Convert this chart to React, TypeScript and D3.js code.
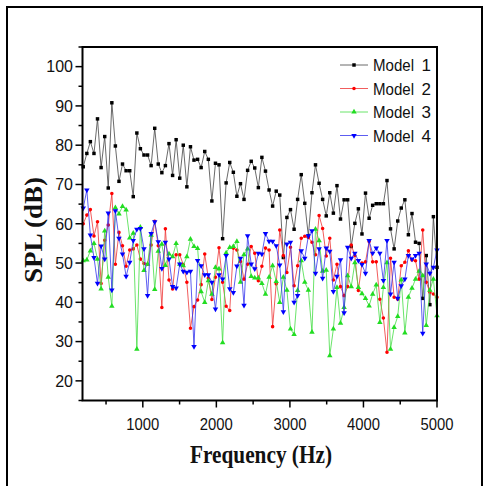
import React from "react";
import * as d3 from "d3";

const freqs = [190,239,287,336,384,433,482,530,579,627,676,724,773,822,870,919,967,1016,1065,1113,1162,1210,1259,1307,1356,1405,1453,1502,1550,1599,1648,1696,1745,1793,1842,1891,1939,1988,2036,2085,2133,2182,2231,2279,2328,2376,2425,2474,2522,2571,2619,2668,2717,2765,2814,2862,2911,2959,3008,3057,3105,3154,3202,3251,3300,3348,3397,3445,3494,3542,3591,3640,3688,3737,3785,3834,3883,3931,3980,4028,4077,4125,4174,4223,4271,4320,4368,4417,4466,4514,4563,4611,4660,4708,4757,4806,4854,4903,4951,5000];

const model1 = [
74.5, 77.9, 80.9, 77.9, 86.7, 74.3, 82.2, 69.1, 90.8, 79.8,
70.8, 75.2, 73.5, 73.5, 66.9, 83.1, 79.1, 77.5, 77.5, 74.8,
84.3, 75.2, 73.0, 74.8, 80.4, 72.3, 81.4, 71.6, 80.0, 69.4,
79.6, 76.2, 76.4, 74.3, 78.4, 76.4, 65.8, 75.4, 75.0, 56.2,
70.4, 75.6, 73.1, 67.0, 70.2, 66.2, 73.6, 75.9, 74.2, 69.2,
76.9, 73.4, 68.6, 64.5, 68.3, 67.3, 51.4, 61.6, 63.6, 58.6,
66.2, 72.5, 65.2, 56.9, 67.9, 75.0, 70.3, 66.2, 62.0, 67.9,
62.7, 69.7, 61.2, 66.1, 66.1, 54.2, 60.1, 63.8, 57.4, 67.8,
61.4, 64.7, 65.1, 65.1, 65.1, 71.0, 58.7, 53.6, 60.7, 64.0,
66.1, 57.2, 62.6, 55.3, 55.0, 41.0, 51.9, 39.4, 61.8, 48.9];

const model2 = [
60.0, 62.2, 63.6, 56.9, 60.5, 44.8, 55.8, 59.7, 67.7, 49.7,
57.8, 54.4, 49.2, 53.3, 53.6, 54.6, 51.0, 49.9, 49.7, 54.6,
60.6, 54.4, 38.7, 58.7, 45.7, 43.4, 52.1, 52.1, 49.6, 45.1,
33.4, 38.9, 40.6, 44.5, 52.3, 46.1, 40.7, 46.4, 53.9, 45.1,
39.0, 37.9, 53.8, 53.3, 50.4, 45.9, 49.7, 54.2, 52.5, 45.5,
49.2, 53.8, 53.3, 33.8, 44.7, 58.4, 51.9, 47.6, 54.0, 44.2,
49.3, 56.3, 56.8, 56.5, 55.3, 52.1, 62.1, 58.8, 51.8, 56.3,
45.7, 49.7, 44.0, 41.7, 44.0, 54.6, 51.9, 43.0, 50.0, 50.3,
55.5, 50.3, 50.3, 40.8, 36.0, 27.3, 51.2, 41.3, 40.8, 49.3,
50.2, 53.1, 50.8, 50.6, 45.9, 58.4, 45.1, 42.6, 42.1, 41.3];

const model3 = [
50.6, 50.8, 53.1, 55.0, 51.0, 43.4, 58.2, 46.4, 39.0, 64.1,
62.5, 64.4, 63.5, 56.4, 57.6, 28.1, 59.1, 48.1, 49.7, 57.1,
43.3, 53.0, 54.8, 49.4, 52.3, 51.6, 55.0, 49.7, 49.3, 51.6,
56.1, 54.2, 53.7, 42.7, 40.0, 45.5, 42.1, 48.9, 48.5, 29.7,
52.6, 54.0, 54.2, 55.5, 45.1, 52.1, 53.6, 46.6, 46.2, 46.2,
44.8, 42.1, 46.4, 49.3, 45.3, 40.0, 46.4, 43.1, 33.2, 31.8,
43.0, 50.6, 45.1, 43.1, 32.4, 58.6, 55.7, 47.9, 48.2, 26.4,
33.2, 43.8, 34.7, 38.7, 46.8, 44.0, 50.1, 43.8, 42.2, 41.0,
39.1, 42.1, 44.4, 34.9, 43.8, 50.1, 28.1, 33.6, 36.4, 45.7,
32.2, 41.3, 43.6, 45.9, 47.9, 46.8, 34.1, 43.1, 45.9, 36.6];

const model4 = [
64.0, 68.6, 57.1, 51.4, 44.8, 54.3, 51.0, 62.7, 43.1, 63.3,
56.3, 52.3, 46.6, 50.2, 55.7, 58.6, 58.8, 53.6, 41.7, 57.5,
60.5, 55.4, 48.6, 55.3, 51.0, 44.0, 43.6, 49.7, 47.9, 47.6,
47.9, 28.7, 50.6, 49.3, 47.0, 47.0, 45.1, 38.3, 47.0, 45.9,
51.9, 43.4, 42.5, 49.2, 51.2, 39.2, 56.9, 49.7, 48.5, 52.5,
52.3, 57.5, 55.5, 55.5, 54.4, 49.5, 37.6, 54.8, 55.3, 40.0,
41.7, 53.1, 51.2, 56.9, 58.2, 47.4, 53.6, 46.1, 53.8, 53.0,
42.7, 46.6, 50.8, 37.3, 54.0, 51.2, 52.5, 50.6, 49.6, 47.4,
55.7, 52.5, 53.8, 52.5, 45.5, 55.7, 42.1, 50.2, 41.0, 44.2,
45.9, 51.9, 51.0, 51.9, 52.5, 32.1, 49.7, 47.4, 48.9, 53.3];

const seriesNames = ["Model", "Model", "Model", "Model"];
const seriesNums = ["1", "2", "3", "4"];
const seriesColors = ["#000000", "#ff0000", "#22dd22", "#0000ff"];
const lineColors = ["#444444", "#ee3333", "#44dd44", "#3333ee"];
const yTicks = [20, 30, 40, 50, 60, 70, 80, 90, 100];
const yMinor = [15, 25, 35, 45, 55, 65, 75, 85, 95, 105];
const xTicks = [1000, 2000, 3000, 4000, 5000];
const xMinor = [500, 1500, 2500, 3500, 4500];

const L = 82.5, R = 437, T = 47, B = 400.5;

export default function App() {
  const x = d3.scaleLinear().domain([180, 5000]).range([L, R]);
  const y = d3.scaleLinear().domain([15, 105]).range([B, T]);
  const all = [model1, model2, model3, model4];
  const symbols = [
    d3.symbol(d3.symbolSquare, 12)(),
    d3.symbol(d3.symbolCircle, 10)(),
    d3.symbol(d3.symbolTriangle, 13)(),
    d3.symbol(d3.symbolTriangle, 13)(),
  ];
  const rot = [0, 0, 0, 180];
  const line = d3.line<number>().x((_, i) => x(freqs[i])).y((d) => y(d));
  const legY = [65, 88.5, 112, 135.5];

  return (
    <svg width={483} height={486} style={{ position: "absolute", left: 0, top: 0, background: "#fff" }}>
      <rect x={0} y={0} width={483} height={486} fill="#fff" />
      <rect x={7} y={7} width={475} height={500} fill="none" stroke="#000" strokeWidth={2} />
      {all.map((s, k) => (
        <g key={k}>
          <path d={line(s) || ""} fill="none" stroke={lineColors[k]} strokeWidth={0.8} />
          {s.map((v, i) => (
            <path key={i} d={symbols[k]} fill={seriesColors[k]}
              transform={`translate(${x(freqs[i])},${y(v)}) rotate(${rot[k]})`} />
          ))}
        </g>
      ))}
      {/* axes box */}
      <rect x={L} y={T} width={R - L} height={B - T} fill="none" stroke="#000" strokeWidth={2} />
      {yTicks.map((t) => (
        <g key={t}>
          <line x1={L - 7} x2={L} y1={y(t)} y2={y(t)} stroke="#000" strokeWidth={1.5} />
          <text x={73} y={y(t)} dy="0.36em" textAnchor="end" fontFamily="Liberation Sans, Arial, sans-serif" fontSize={16} fill="#111">{t}</text>
        </g>
      ))}
      {yMinor.map((t) => (
        <line key={t} x1={L - 4} x2={L} y1={y(t)} y2={y(t)} stroke="#000" strokeWidth={1.5} />
      ))}
      {xTicks.map((t) => (
        <g key={t}>
          <line x1={x(t)} x2={x(t)} y1={B} y2={B + 7} stroke="#000" strokeWidth={1.5} />
          <text x={x(t)} y={430} textAnchor="middle" fontFamily="Liberation Sans, Arial, sans-serif" fontSize={16} fill="#111" textLength={33} lengthAdjust="spacingAndGlyphs">{t}</text>
        </g>
      ))}
      {xMinor.map((t) => (
        <line key={t} x1={x(t)} x2={x(t)} y1={B} y2={B + 4} stroke="#000" strokeWidth={1.5} />
      ))}
      <text x={261} y={463} textAnchor="middle" fontFamily="Liberation Serif, Times New Roman, serif" fontWeight="bold" fontSize={25} fill="#111" textLength={142} lengthAdjust="spacingAndGlyphs">Frequency (Hz)</text>
      <text transform="translate(42,230) rotate(-90)" textAnchor="middle" fontFamily="Liberation Serif, Times New Roman, serif" fontWeight="bold" fontSize={26} fill="#111" textLength={106} lengthAdjust="spacingAndGlyphs">SPL (dB)</text>
      {/* legend */}
      {seriesNames.map((n, k) => (
        <g key={k}>
          <line x1={340} x2={368} y1={legY[k]} y2={legY[k]} stroke={lineColors[k]} strokeWidth={0.8} />
          <path d={symbols[k]} fill={seriesColors[k]} transform={`translate(354,${legY[k]}) rotate(${rot[k]})`} />
          <text x={373} y={legY[k]} dy="0.36em" fontFamily="Liberation Sans, Arial, sans-serif" fontSize={17} fill="#111" textLength={41} lengthAdjust="spacingAndGlyphs">{n}</text>
          <text x={431} y={legY[k]} dy="0.36em" textAnchor="end" fontFamily="Liberation Sans, Arial, sans-serif" fontSize={17} fill="#111">{seriesNums[k]}</text>
        </g>
      ))}
    </svg>
  );
}
